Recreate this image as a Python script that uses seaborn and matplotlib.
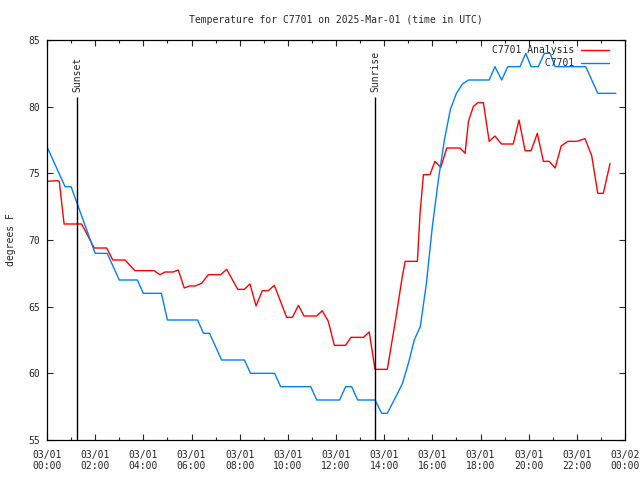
import matplotlib
matplotlib.use("Agg")
import matplotlib.pyplot as plt
from matplotlib.lines import Line2D
import seaborn as sns
import pandas as pd

# hours after 00:00 UTC, temperatures in degrees F
analysis_hours = [0.0, 0.44, 0.51, 0.71, 1.44, 1.96, 2.48, 2.73, 3.24, 3.65,
                  4.44, 4.69, 4.9, 5.24, 5.45, 5.7, 5.91, 6.15, 6.42, 6.7,
                  7.21, 7.46, 7.92, 8.19, 8.43, 8.68, 8.94, 9.19, 9.44, 9.95,
                  10.19, 10.44, 10.67, 11.2, 11.43, 11.68, 11.93, 12.4, 12.62, 13.14,
                  13.38, 13.62, 14.13, 14.45, 14.73, 14.87, 15.38, 15.49, 15.63, 15.9,
                  16.11, 16.35, 16.6, 17.15, 17.36, 17.5, 17.7, 17.89, 18.12, 18.36,
                  18.6, 18.87, 19.36, 19.6, 19.85, 20.1, 20.36, 20.61, 20.85, 21.1,
                  21.35, 21.62, 22.0, 22.34, 22.62, 22.87, 23.1, 23.38]
analysis_temps = [74.4, 74.45, 74.4, 71.2, 71.2, 69.4, 69.4, 68.5, 68.5, 67.7,
                  67.7, 67.4, 67.6, 67.6, 67.75, 66.4, 66.55, 66.55, 66.75, 67.4,
                  67.4, 67.8, 66.3, 66.3, 66.7, 65.05, 66.2, 66.2, 66.6, 64.2,
                  64.2, 65.1, 64.3, 64.3, 64.7, 63.9, 62.1, 62.1, 62.7, 62.7,
                  63.1, 60.3, 60.3, 63.75, 67.0, 68.4, 68.4, 72.0, 74.9, 74.9,
                  75.9, 75.45, 76.9, 76.9, 76.5, 78.9, 80.0, 80.3, 80.3, 77.4,
                  77.8, 77.2, 77.2, 79.0, 76.7, 76.7, 78.0, 75.9, 75.9, 75.4,
                  77.05, 77.4, 77.4, 77.6, 76.3, 73.5, 73.5, 75.75]

station_hours = [0.0, 0.75, 1.0, 2.0, 2.5, 3.0, 3.75, 4.0, 4.75, 5.0,
                 6.25, 6.5, 6.75, 7.25, 8.2, 8.45, 9.45, 9.7, 10.95, 11.2,
                 12.15, 12.4, 12.65, 12.9, 13.62, 13.9, 14.13, 14.5, 14.75, 15.0,
                 15.25, 15.5, 15.75, 16.0, 16.25, 16.5, 16.75, 17.0, 17.25, 17.5,
                 18.36, 18.6, 18.88, 19.13, 19.64, 19.88, 20.1, 20.4, 20.65, 20.89,
                 21.1, 22.37, 22.87, 23.62]
station_temps = [77, 74, 74, 69, 69, 67, 67, 66, 66, 64,
                 64, 63, 63, 61, 61, 60, 60, 59, 59, 58,
                 58, 59, 59, 58, 58, 57, 57, 58.3, 59.2, 60.7,
                 62.5, 63.5, 66.7, 71, 74.5, 77.5, 79.8, 81, 81.7, 82,
                 82, 83, 82, 83, 83, 84, 83, 83, 84, 84,
                 83, 83, 81, 81]

sunset_hour = 1.26
sunrise_hour = 13.62

x_ticks = list(range(0, 25, 2))
x_labels = ["03/01\n%02d:00" % h for h in range(0, 24, 2)] + ["03/02\n00:00"]
y_ticks = [55, 60, 65, 70, 75, 80, 85]

names = ["C7701 Analysis", "C7701"]
colors = {"C7701 Analysis": "#ff0000", "C7701": "#0080ff"}

df = pd.concat([
    pd.DataFrame({"hour": analysis_hours, "temp": analysis_temps, "series": names[0]}),
    pd.DataFrame({"hour": station_hours, "temp": station_temps, "series": names[1]}),
])

sns.set_theme(style="ticks")
plt.rcParams["font.family"] = ["DejaVu Sans Mono"]
plt.rcParams["font.size"] = 7

fig, ax = plt.subplots(figsize=(6.4, 4.8), dpi=100)
fig.subplots_adjust(left=47 / 640, right=625 / 640, top=1 - 40 / 480, bottom=1 - 440 / 480)

sns.lineplot(data=df, x="hour", y="temp", hue="series", hue_order=names,
             palette=colors, linewidth=1.0, legend=False, ax=ax)

# sunset / sunrise markers
for h, lab in [(sunset_hour, "Sunset"), (sunrise_hour, "Sunrise")]:
    ax.vlines(h, 55, 80.7, color="black", linewidth=1.0)
    ax.text(h + 0.02, 81.1, lab, rotation=90, ha="center", va="bottom", fontsize=7)

ax.set_xlim(0, 24)
ax.set_ylim(55, 85)
ax.set_xticks(x_ticks)
ax.set_xticklabels(x_labels)
ax.set_xticks(range(1, 24, 2), minor=True)
ax.set_yticks(y_ticks)
ax.tick_params(which="both", direction="in", top=True, right=True, labelsize=7, width=0.8)
ax.tick_params(axis="x", which="major", length=4, pad=7)
ax.tick_params(axis="x", which="minor", length=2.5)
ax.tick_params(axis="y", which="major", length=4, pad=5)
for s in ax.spines.values():
    s.set_linewidth(0.9)
    s.set_color("black")

ax.set_xlabel("")
ax.set_ylabel("degrees F", fontsize=7, labelpad=9)
ax.set_title("Temperature for C7701 on 2025-Mar-01 (time in UTC)", fontsize=7, pad=12)

handles = [Line2D([], [], color=colors[n], linewidth=1.0) for n in names]
ax.legend(handles, [n.rjust(14) for n in names], loc="upper right",
          bbox_to_anchor=(0.9775, 0.995), frameon=False, markerfirst=False,
          handlelength=2.9, handletextpad=0.7, borderaxespad=0, borderpad=0.3,
          labelspacing=0.35, fontsize=7)

fig.savefig("out.png", dpi=100)
